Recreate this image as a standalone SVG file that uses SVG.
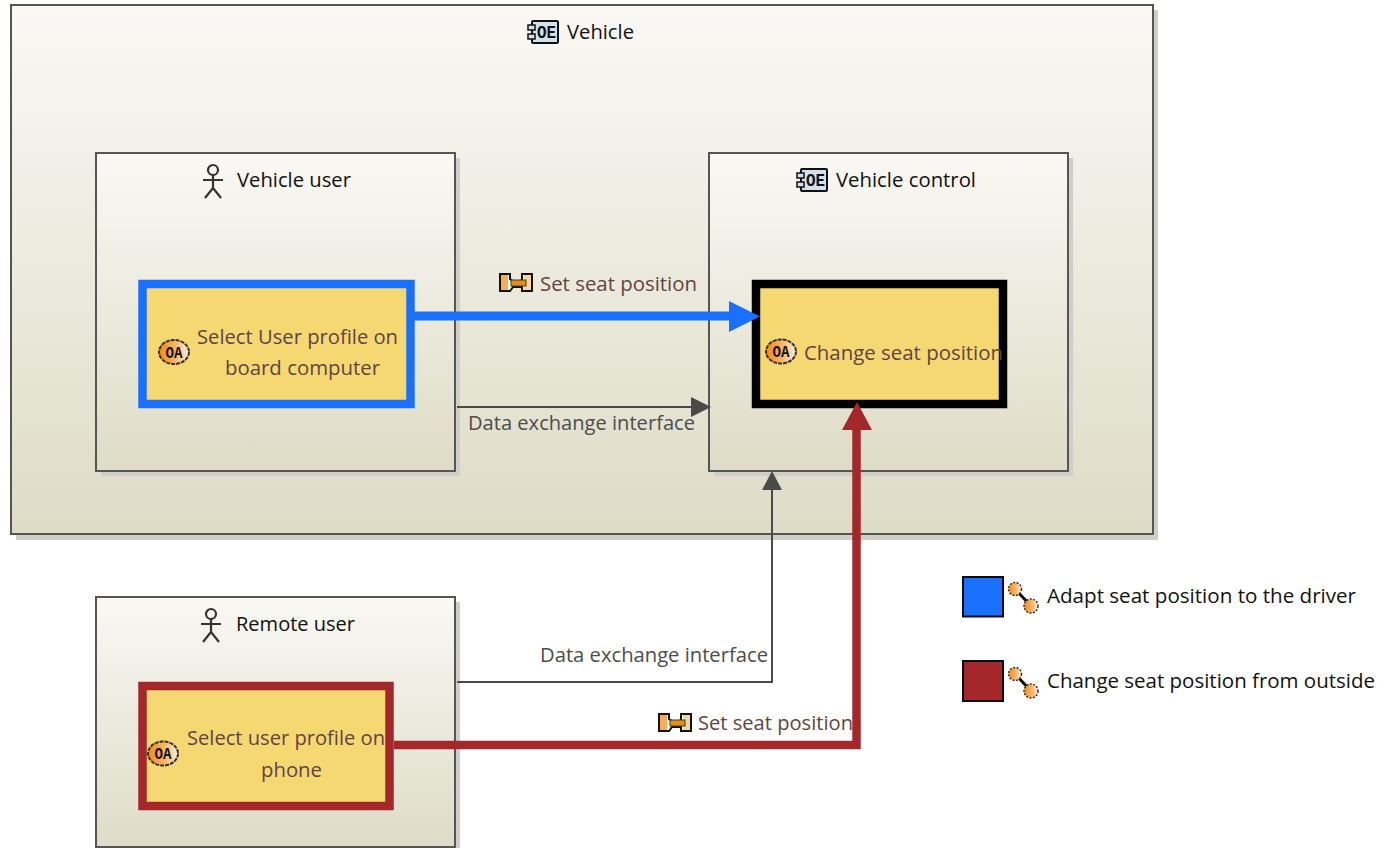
<svg xmlns="http://www.w3.org/2000/svg" width="1382" height="848" viewBox="0 0 1382 848">
<style>
text{font-family:"Open Sans","Noto Sans","Liberation Sans",sans-serif;font-size:20.5px}
.n{fill:#111}
.f{fill:#5f4444}
.g{fill:#4d4d4d}
.box{fill:url(#grad);stroke:#555;stroke-width:2}
.sh{fill:#cfcfca}
.fn{fill:#f6d872;stroke-width:8.5}
.ic{font-family:"Liberation Mono",monospace;font-size:14px;font-weight:700;fill:#111}
</style>
<defs>
<linearGradient id="grad" x1="0" y1="0" x2="0" y2="1"><stop offset="0" stop-color="#f9f8f5"/><stop offset="1" stop-color="#dedcc6"/></linearGradient>
<linearGradient id="org" x1="0" y1="0" x2="1" y2="0"><stop offset="0" stop-color="#f58a10"/><stop offset="0.55" stop-color="#f9b566"/><stop offset="1" stop-color="#fdf0e0"/></linearGradient>
<g id="comp">
<rect x="4" y="0" width="26" height="22" rx="1" fill="#d3e0ee" stroke="#111" stroke-width="2"/>
<rect x="0" y="4" width="7" height="5" fill="#d3e0ee" stroke="#111" stroke-width="1.5"/>
<rect x="0" y="13" width="7" height="5" fill="#d3e0ee" stroke="#111" stroke-width="1.5"/>
<text x="9" y="17" class="ic" style="font-size:18px" textLength="19" lengthAdjust="spacingAndGlyphs">OE</text>
</g>
<g id="actor" fill="none" stroke="#333" stroke-width="2.2">
<circle cx="11" cy="6" r="5"/>
<path d="M11 11V24M1 16H21M11 24L3 34M11 24L19 34"/>
</g>
<g id="oa">
<ellipse cx="16" cy="12.500" rx="15" ry="12" fill="url(#org)" stroke="#333" stroke-width="2" stroke-dasharray="4 1"/>
<text x="16" y="18" text-anchor="middle" class="ic" style="font-size:16px" textLength="17" lengthAdjust="spacingAndGlyphs">OA</text>
</g>
<g id="ex">
<path d="M1 1H11V6L14 8H22L23 6V1H33V18H23V14H14L11 18H1Z" fill="#fff" stroke="#111" stroke-width="2"/>
<rect x="2" y="2" width="7" height="15" fill="#f9ab55"/>
<rect x="25" y="2" width="7" height="15" fill="#fbd2a2"/>
<rect x="12" y="7" width="15" height="6" fill="#ee8a18" stroke="#2c4a1e"/>
</g>
<g id="lnk">
<path d="M9 7L25 24" stroke="#111" stroke-width="3"/>
<circle cx="9" cy="7" r="6.500" fill="url(#org)" stroke="#333" stroke-width="1.500" stroke-dasharray="2 1.500"/>
<circle cx="25" cy="24" r="7" fill="url(#org)" stroke="#333" stroke-width="1.500" stroke-dasharray="2 1.500"/>
</g>
</defs>
<rect width="1382" height="848" fill="#fff"/>
<g id="node-vehicle">
<rect class="sh" x="16" y="10" width="1142" height="530"/>
<rect class="box" x="11" y="5" width="1142" height="529"/>
<use href="#comp" x="528" y="21"/>
<text class="n" x="567" y="39" textLength="67" lengthAdjust="spacingAndGlyphs">Vehicle</text>
</g>
<g id="node-vehicle-user">
<rect class="sh" x="101" y="158" width="359" height="318"/>
<rect class="box" x="96" y="153" width="359" height="318"/>
<use href="#actor" x="202" y="164"/>
<text class="n" x="237" y="187" textLength="114" lengthAdjust="spacingAndGlyphs">Vehicle user</text>
</g>
<g id="node-vehicle-control">
<rect class="sh" x="714" y="158" width="359" height="318"/>
<rect class="box" x="709" y="153" width="359" height="318"/>
<use href="#comp" x="797" y="169"/>
<text class="n" x="836" y="187" textLength="140" lengthAdjust="spacingAndGlyphs">Vehicle control</text>
</g>
<g id="node-remote-user">
<rect class="sh" x="101" y="602" width="359" height="250"/>
<rect class="box" x="96" y="597" width="359" height="250"/>
<use href="#actor" x="200" y="608"/>
<text class="n" x="236" y="631" textLength="119" lengthAdjust="spacingAndGlyphs">Remote user</text>
</g>
<g id="node-select-board">
<rect class="fn" x="142.500" y="284" width="268" height="120" stroke="#1a70fa"/>
<use href="#oa" x="158" y="339.500"/>
<text class="f" x="197" y="344" textLength="201" lengthAdjust="spacingAndGlyphs">Select User profile on</text>
<text class="f" x="225" y="375" textLength="155" lengthAdjust="spacingAndGlyphs">board computer</text>
</g>
<g id="node-change-seat">
<rect class="fn" x="756" y="284" width="247" height="120" stroke="#000"/>
<use href="#oa" x="765" y="339"/>
<text class="f" x="804" y="360" textLength="199" lengthAdjust="spacingAndGlyphs">Change seat position</text>
</g>
<g id="node-select-phone">
<rect class="fn" x="142.500" y="686" width="247" height="120" stroke="#a4282a"/>
<use href="#oa" x="147" y="741"/>
<text class="f" x="187" y="745" textLength="198" lengthAdjust="spacingAndGlyphs">Select user profile on</text>
<text class="f" x="261" y="777" textLength="61" lengthAdjust="spacingAndGlyphs">phone</text>
</g>
<g id="connectors" fill="none">
<path d="M457 407H693" stroke="#4a4a4a" stroke-width="2"/>
<path d="M691 397L711 407L691 417Z" fill="#4a4a4a"/>
<path d="M457 682H772V488" stroke="#4a4a4a" stroke-width="2"/>
<path d="M762 490L772 471L782 490Z" fill="#4a4a4a"/>
<path d="M414 316H732" stroke="#1a70fa" stroke-width="9"/>
<path d="M729 301L760 316.500L729 332Z" fill="#1a70fa"/>
<path d="M394 745H856.500V428" stroke="#a4282a" stroke-width="8.500"/>
<path d="M842 430L857 402L872 430Z" fill="#a4282a"/>
</g>
<g id="labels">
<use href="#ex" x="499" y="273"/>
<text class="f" x="540" y="291" textLength="157" lengthAdjust="spacingAndGlyphs">Set seat position</text>
<text class="g" x="468" y="430" textLength="227" lengthAdjust="spacingAndGlyphs">Data exchange interface</text>
<text class="g" x="540" y="662" textLength="228" lengthAdjust="spacingAndGlyphs">Data exchange interface</text>
<use href="#ex" x="658" y="713"/>
<text class="f" x="698" y="730" textLength="155" lengthAdjust="spacingAndGlyphs">Set seat position</text>
</g>
<g id="legend-blue">
<rect x="963" y="577" width="40" height="39.500" fill="#1a70fa" stroke="#0a0a14" stroke-width="2"/>
<use href="#lnk" x="1006" y="582"/>
<text class="n" x="1047" y="603" textLength="309" lengthAdjust="spacingAndGlyphs">Adapt seat position to the driver</text>
</g>
<g id="legend-red">
<rect x="963" y="661" width="40" height="40" fill="#a4282a" stroke="#0a0a14" stroke-width="2"/>
<use href="#lnk" x="1006" y="667"/>
<text class="n" x="1047" y="688" textLength="328" lengthAdjust="spacingAndGlyphs">Change seat position from outside</text>
</g>
</svg>
